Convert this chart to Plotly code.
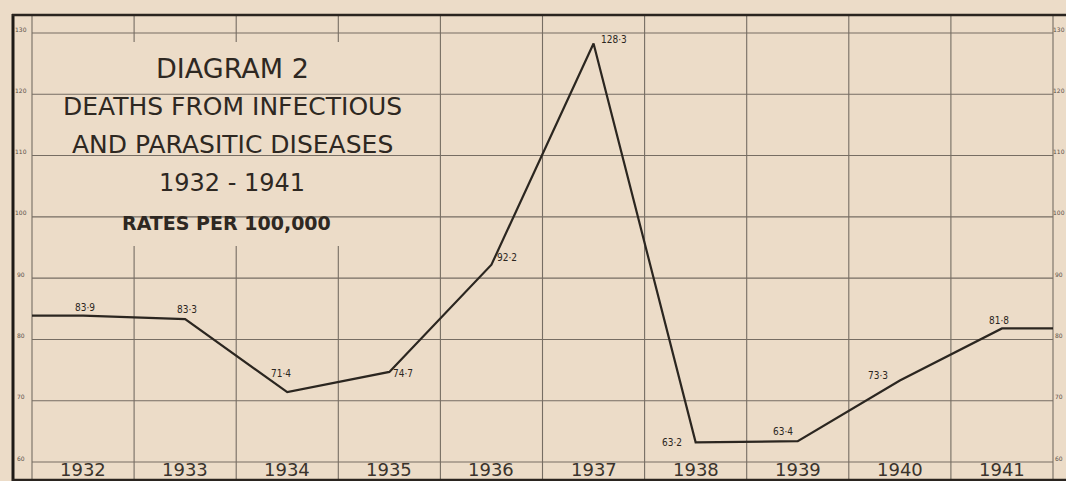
import plotly.graph_objects as go

# ---- data ----
years = [1932, 1933, 1934, 1935, 1936, 1937, 1938, 1939, 1940, 1941]
rates = [83.9, 83.3, 71.4, 74.7, 92.2, 128.3, 63.2, 63.4, 73.3, 81.8]
rate_labels = ["83·9", "83·3", "71·4", "74·7", "92·2", "128·3", "63·2", "63·4", "73·3", "81·8"]
year_labels = ["1932", "1933", "1934", "1935", "1936", "1937", "1938", "1939", "1940", "1941"]
y_ticks = [60, 70, 80, 90, 100, 110, 120, 130]
title_lines = ["DIAGRAM 2", "DEATHS FROM INFECTIOUS", "AND PARASITIC DISEASES", "1932 - 1941"]
subtitle = "RATES PER 100,000"

W, H = 1066, 481
BG = "#ecdcc8"
INK = "#2b2620"
GRID = "#766d63"

# pixel geometry of the plotting grid
PX_LEFT, PX_RIGHT = 32, 1053        # column boundaries (x of 1931.5 and 1941.5)
PY_60, PY_130 = 462, 33             # y pixel of 60 and 130
ppx = (PX_RIGHT - PX_LEFT) / (len(years))
ppy = (PY_60 - PY_130) / 70.0

x0 = years[0] - 0.5 - PX_LEFT / ppx
x1 = years[-1] + 0.5 + (W - PX_RIGHT) / ppx
y0 = 60 - (H - PY_60) / ppy
y1 = 60 + PY_60 / ppy

def px(p):  # pixel -> paper x
    return p / W

def py(p):  # pixel -> paper y
    return 1 - p / H

fig = go.Figure()

shapes = []
# horizontal grid lines
for v in y_ticks:
    shapes.append(dict(type="line", xref="x", yref="y", x0=years[0] - 0.5, x1=years[-1] + 0.5,
                       y0=v, y1=v, line=dict(color=GRID, width=1.1), layer="below"))
# vertical column boundaries
bounds = [y - 0.5 for y in years] + [years[-1] + 0.5]
for b in bounds:
    shapes.append(dict(type="line", xref="x", yref="paper", x0=b, x1=b,
                       y0=0, y1=py(15), line=dict(color=GRID, width=1.1), layer="below"))
# title panel covering the grid
shapes.append(dict(type="rect", xref="paper", yref="paper", x0=px(48), x1=px(436),
                   y0=py(246), y1=py(42), fillcolor=BG, line=dict(width=0), layer="below"))
# heavy frame lines
shapes.append(dict(type="line", xref="paper", yref="paper", x0=px(13), x1=px(13),
                   y0=0, y1=py(14), line=dict(color="#1e1a16", width=3)))
shapes.append(dict(type="line", xref="paper", yref="paper", x0=px(12), x1=1,
                   y0=py(15), y1=py(15), line=dict(color="#2a241f", width=2.5)))
shapes.append(dict(type="line", xref="paper", yref="paper", x0=px(12), x1=1,
                   y0=py(480), y1=py(480), line=dict(color="#2a241f", width=2.5)))

# data line, extended flat to the grid edges
fig.add_trace(go.Scatter(
    x=[years[0] - 0.5] + years + [years[-1] + 0.5],
    y=[rates[0]] + rates + [rates[-1]],
    mode="lines", line=dict(color=INK, width=2.2), hoverinfo="skip", showlegend=False))

ann = []
# value labels (offsets in pixels)
offsets = [(2, 8), (2, 10), (-6, 19), (14, -2), (16, 7), (20, 4), (-24, 0), (-15, 10), (-22, 5), (-3, 8)]
for yr, v, t, (dx, dy) in zip(years, rates, rate_labels, offsets):
    ann.append(dict(x=yr, y=v, xref="x", yref="y", text=t, showarrow=False,
                    xanchor="center", yanchor="middle", xshift=dx, yshift=dy,
                    font=dict(family="DejaVu Sans Condensed, DejaVu Sans", size=10, color=INK)))
# year labels in the bottom row
for yr, t in zip(years, year_labels):
    ann.append(dict(x=yr, y=py(469), xref="x", yref="paper", text=t, showarrow=False,
                    xanchor="center", yanchor="middle",
                    font=dict(family="DejaVu Sans", size=18, color="#3a332c")))
# tiny scale labels on both sides
for v in y_ticks:
    for xp in (21, 1059):
        ann.append(dict(x=px(xp), y=v, xref="paper", yref="y", text=str(v), showarrow=False,
                        xanchor="center", yanchor="middle", yshift=4,
                        font=dict(family="DejaVu Sans", size=6, color="#5a5149")))
# title block
for t, yp, fs in zip(title_lines, [68, 106, 144, 183], [27, 25, 25, 24]):
    ann.append(dict(x=px(232), y=py(yp), xref="paper", yref="paper", text=t, showarrow=False,
                    xanchor="center", yanchor="middle",
                    font=dict(family="DejaVu Sans", size=fs, color="#2e2822")))
ann.append(dict(x=px(226), y=py(223), xref="paper", yref="paper", text=subtitle, showarrow=False,
                xanchor="center", yanchor="middle",
                font=dict(family="DejaVu Sans", size=19, color="#2e2822", weight="bold")))

fig.update_layout(
    width=W, height=H, margin=dict(l=0, r=0, t=0, b=0),
    paper_bgcolor=BG, plot_bgcolor=BG,
    xaxis=dict(range=[x0, x1], visible=False, fixedrange=True),
    yaxis=dict(range=[y0, y1], visible=False, fixedrange=True),
    shapes=shapes, annotations=ann, showlegend=False,
)

fig.write_html("out.html", config=dict(displayModeBar=False),
               post_script="document.body.style.margin='0';document.body.style.overflow='hidden';")
